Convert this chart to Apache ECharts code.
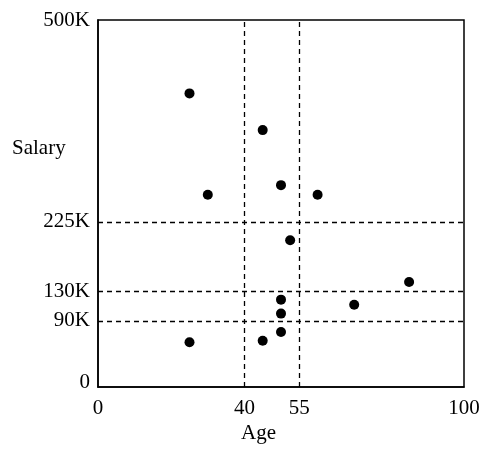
<!DOCTYPE html>
<html>
<head>
<meta charset="utf-8">
<script src="https://cdn.jsdelivr.net/npm/echarts@6/dist/echarts.min.js"></script>
<style>html,body{margin:0;padding:0;background:#fff;}#c{width:489px;height:454px;}</style>
</head>
<body>
<div id="c"></div>
<script>
// Data (age, salary in K)
const ages     = [25, 45, 30, 50, 60, 52.5, 85, 70, 50, 50, 50, 45, 25];
const salaries = [400, 350, 262, 275, 262, 200, 143, 112, 119, 100, 75, 63, 61];
const xTicks = [0, 40, 55, 100];
const yTicks = [0, 90, 130, 225, 500];
const xCuts = [40, 55];
const yCuts = [90, 130, 225];
const xTitle = 'Age';
const yTitle = 'Salary';

const font = 'Liberation Serif, Times New Roman, serif';
const chart = echarts.init(document.getElementById('c'), null, {renderer: 'canvas'});
const points = ages.map((a, i) => [a, salaries[i]]);
const cutLines = xCuts.map(v => ({xAxis: v})).concat(yCuts.map(v => ({yAxis: v})));

chart.setOption({
  animation: false,
  backgroundColor: '#fff',
  grid: {left: 98, right: 25, top: 20, bottom: 67, show: true, borderColor: '#000', borderWidth: 1.5},
  xAxis: {
    type: 'value', min: 0, max: 100,
    splitLine: {show: false},
    axisLine: {show: true, lineStyle: {color: '#000', width: 1.5}},
    axisTick: {show: false},
    axisLabel: {customValues: xTicks, color: '#000', fontFamily: font, fontSize: 21, margin: 11}
  },
  yAxis: {
    type: 'value', min: 0, max: 500,
    splitLine: {show: false},
    axisLine: {show: true, lineStyle: {color: '#000', width: 1.5}},
    axisTick: {show: false},
    axisLabel: {
      customValues: yTicks, color: '#000', fontFamily: font, fontSize: 21, margin: 8,
      formatter: v => v === 0 ? '{z|0}' : v + 'K',
      rich: {z: {fontFamily: font, fontSize: 21, color: '#000', padding: [0, 0, 10, 0]}}
    }
  },
  graphic: [
    {type: 'text', left: 12, top: 138, style: {text: yTitle, font: '21px ' + font, fill: '#000'}},
    {type: 'text', left: 241, top: 423, style: {text: xTitle, font: '21px ' + font, fill: '#000'}}
  ],
  series: [{
    type: 'scatter',
    data: points,
    symbol: 'circle',
    symbolSize: 10,
    itemStyle: {color: '#000', opacity: 1},
    markLine: {
      silent: true,
      symbol: ['none', 'none'],
      label: {show: false},
      lineStyle: {color: '#000', type: [5, 4], width: 1.3},
      data: cutLines
    }
  }]
});
</script>
</body>
</html>
